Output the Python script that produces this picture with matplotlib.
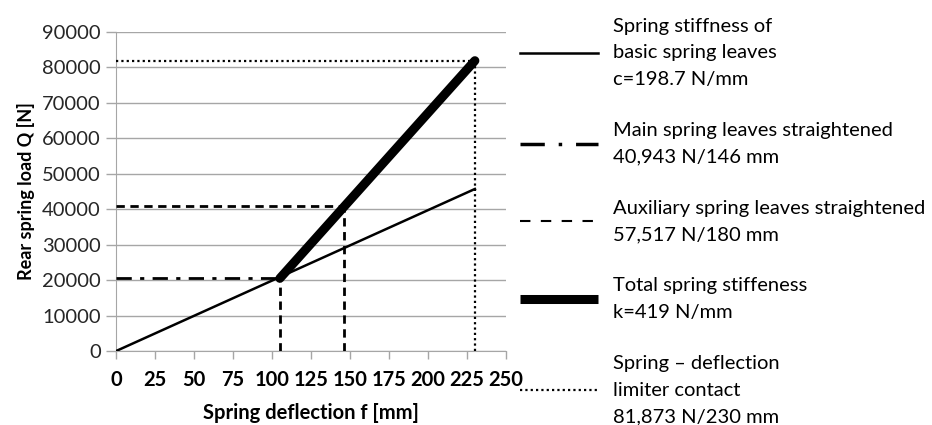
import matplotlib
matplotlib.use("Agg")
import matplotlib.pyplot as plt
from matplotlib.lines import Line2D

plt.rcParams["font.family"] = ["Lato", "DejaVu Sans"]

GRID = "#a6a6a6"

# basic leaves (thin solid)
basic_f = [0, 230]
basic_Q = [0, 45700]
# main leaves straightened (dash-dot level)
main_f = 105
main_Q = 20500
# auxiliary leaves straightened (dashed level)
aux_f = 146
aux_Q = 40900
# total stiffness (thick)
total_f = [105, 230]
total_Q = [20500, 81873]
# limiter contact (dotted)
lim_f = 230
lim_Q = 81873

x_ticks = list(range(0, 251, 25))
y_ticks = list(range(0, 90001, 10000))

labels = [
    "Spring stiffness of\nbasic spring leaves\nc=198.7 N/mm",
    "Main spring leaves straightened\n40,943 N/146 mm",
    "Auxiliary spring leaves straightened\n57,517 N/180 mm",
    "Total spring stiffeness\nk=419 N/mm",
    "Spring \u2013 deflection\nlimiter contact\n81,873 N/230 mm",
]

fig = plt.figure(figsize=(9.32, 4.25), dpi=100)
ax = fig.add_axes([0.1245, 0.174, 0.4185, 0.751])

ax.plot(basic_f, basic_Q, color="black", lw=1.8, zorder=4)
ax.plot([0, main_f], [main_Q, main_Q], color="black", lw=2,
        dashes=(5.5, 3, 1.5, 3), zorder=4)
ax.plot([main_f, main_f], [0, main_Q], color="black", lw=2, dashes=(3, 2), zorder=4)
ax.plot([0, aux_f], [aux_Q, aux_Q], color="black", lw=2, dashes=(3, 2), zorder=4)
ax.plot([aux_f, aux_f], [0, aux_Q], color="black", lw=2, dashes=(3, 2), zorder=4)
ax.plot(total_f, total_Q, color="black", lw=6.5, solid_capstyle="round", zorder=5)
ax.plot([0, lim_f], [lim_Q, lim_Q], color="black", lw=1.6, dashes=(1, 1.4), zorder=4)
ax.plot([lim_f, lim_f], [0, lim_Q], color="black", lw=1.6, dashes=(1, 1.4), zorder=4)

ax.set_xlim(0, 250)
ax.set_ylim(0, 90000)
ax.set_xticks(x_ticks)
ax.set_yticks(y_ticks)
ax.set_yticklabels([str(v) for v in y_ticks], fontsize=14.5, color="#262626")
ax.set_xticklabels([str(v) for v in x_ticks], fontsize=14.5, fontweight="bold")
ax.tick_params(axis="y", length=7, color=GRID, width=1, pad=4)
ax.tick_params(axis="x", length=6, color=GRID, width=1, pad=8)
ax.grid(axis="y", color=GRID, lw=1)
ax.set_axisbelow(True)
for s in ["top", "right"]:
    ax.spines[s].set_visible(False)
for s in ["left", "bottom"]:
    ax.spines[s].set_color(GRID)
ax.set_xlabel("Spring deflection f [mm]", fontsize=14.5, fontweight="bold", labelpad=9)
ax.set_ylabel("Rear spring load Q [N]", fontsize=13, fontweight="bold", labelpad=5)

handles = [
    Line2D([], [], color="black", lw=1.8),
    Line2D([], [], color="black", lw=2.5, dashes=(7, 4, 1, 4)),
    Line2D([], [], color="black", lw=1.5, dashes=(5, 5)),
    Line2D([], [], color="black", lw=6.5, solid_capstyle="butt"),
    Line2D([], [], color="black", lw=1.6, dashes=(1, 1.4)),
]
leg = fig.legend(handles, labels, loc="upper left", bbox_to_anchor=(0.538, 1.001),
                 frameon=False, fontsize=14.5, handlelength=3.9, handletextpad=0.75,
                 labelspacing=1.7)
for t in leg.get_texts():
    t.set_linespacing(1.68)

fig.savefig("out.png", dpi=100)
